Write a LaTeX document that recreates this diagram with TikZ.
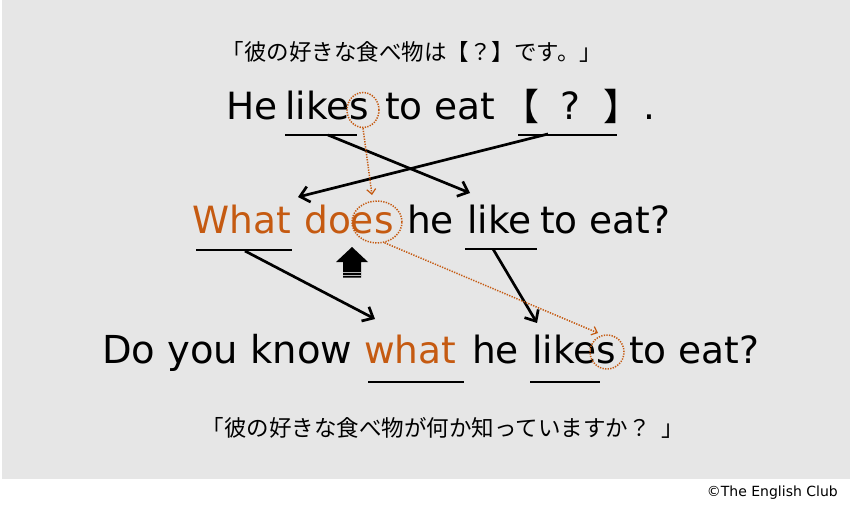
\documentclass[tikz,border=0pt]{standalone}
\usepackage{fontspec}
\setmainfont{DejaVu Sans}
\newfontfamily\jp{Noto Sans CJK JP}
\usetikzlibrary{arrows.meta,shapes.geometric}
\definecolor{bg}{HTML}{E6E6E6}
\definecolor{org}{HTML}{C55A11}
\begin{document}
\begin{tikzpicture}[x=1pt,y=-1pt,
  word/.style={anchor=base west, inner sep=0pt, font=\fontsize{37.5}{40}\selectfont},
  jbig/.style={anchor=base west, inner sep=0pt, font=\jp\fontsize{37}{40}\selectfont},
  hl/.style={text=org},
  jline/.style={inner sep=0pt, font=\jp\fontsize{22.5}{26}\selectfont},
  uline/.style={line width=1.3pt},
  bigarrow/.style={line width=2.7pt, -{Straight Barb[length=9pt,width=16pt]}},
  dotline/.style={draw=org, line width=1.5pt, dash pattern=on 1.3pt off 1.3pt},
  dotarrow/.style={dotline, -{Straight Barb[length=5pt,width=9pt,line width=1.2pt]}},
  ring/.style={ellipse, dotline, inner sep=0pt, fill=none}
]
\useasboundingbox (0,0) rectangle (850,513);
\fill[white] (0,0) rectangle (850,513);
\fill[bg] (2,0) rectangle (850,479);

% Japanese lines
\node[jline] (j1) at (412,52) {「彼の好きな食べ物は【？】です。」};
\node[jline] (j2) at (443,428) {「彼の好きな食べ物が何か知っていますか？\hspace{0.5em}」};

% line 1
\node[word] (h1) at (226,120) {He};
\node[word] (l1) at (285,120) {likes};
\node[word] (t1) at (385,120) {to eat};
\node[jbig] (lb) at (502,121) {【};
\node[word] (q1) at (560,120) {?};
\node[jbig] (rb) at (603,121) {】};
\node[word] (p1) at (643,120) {.};

% line 2
\node[word, hl] (w2) at (192,233) {What};
\node[word, hl] (d2) at (304,233) {does};
\node[word] (h2) at (407,233) {he};
\node[word] (l2) at (467,233) {like};
\node[word] (t2) at (540,233) {to eat?};

% line 3
\node[word, font=\fontsize{38.5}{40}\selectfont] (d3) at (102,363) {Do you know};
\node[word, hl] (w3) at (364,363) {what};
\node[word] (h3) at (472,363) {he};
\node[word] (l3) at (532,363) {likes};
\node[word] (t3) at (629,363) {to eat?};

% underlines
\draw[uline] (285,135) -- (357,135);
\draw[uline] (518,135) -- (617,135);
\draw[uline] (196,250) -- (292,250);
\draw[uline] (465,249) -- (537,249);
\draw[uline] (368,382) -- (464,382);
\draw[uline] (530,382) -- (600,382);

% arrow endpoints
\coordinate (a1s) at (328,135);
\coordinate (a1e) at (470,193);
\coordinate (a2s) at (548,134);
\coordinate (a2e) at (298,197);
\coordinate (a3s) at (245,251);
\coordinate (a3e) at (375,319);
\coordinate (a4s) at (493,249);
\coordinate (a4e) at (537,323);

\draw[bigarrow] (a1s) -- (a1e);
\draw[bigarrow] (a2s) -- (a2e);
\draw[bigarrow] (a3s) -- (a3e);
\draw[bigarrow] (a4s) -- (a4e);

% dotted rings
\node[ring, minimum width=32pt, minimum height=35pt] (c1) at (363,110) {};
\node[ring, minimum width=50pt, minimum height=42pt] (c2) at (377,222) {};
\node[ring, minimum width=34pt, minimum height=34pt] (c3) at (607,352) {};

\coordinate (o1e) at (372,195);
\coordinate (o2e) at (598,333);
\draw[dotarrow] (c1.south) -- (o1e);
\draw[dotarrow] (c2.-70) -- (o2e);

% block arrow
\fill (352,247) -- (368,262) -- (361,262) -- (361,277.5) -- (343,277.5) -- (343,262) -- (336,262) -- cycle;
\draw[gray!55, line width=1.1pt] (343,272.5) -- (361,272.5);
\draw[gray!55, line width=1.1pt] (343,275.5) -- (361,275.5);

% copyright
\node[anchor=east, inner sep=0pt, font=\fontsize{14}{16}\selectfont] (cr) at (838,493) {©The English Club};
\end{tikzpicture}
\end{document}
